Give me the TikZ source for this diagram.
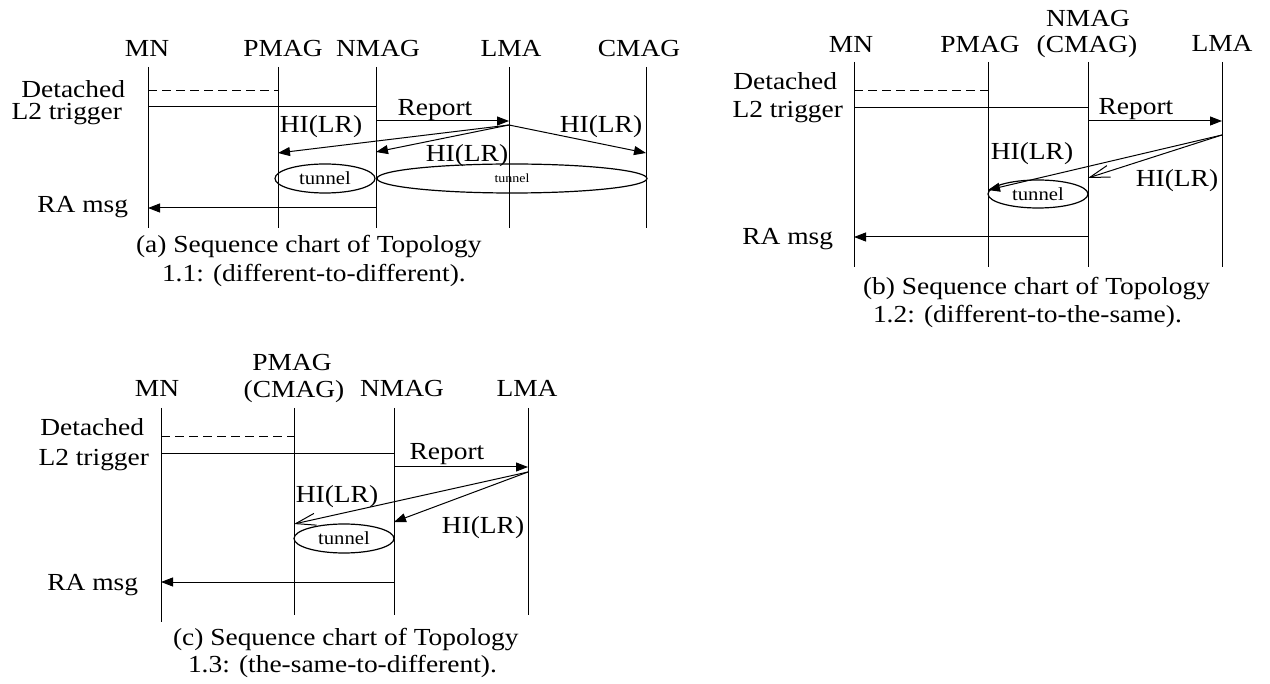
\documentclass[tikz,border=0pt]{standalone}
\usepackage{fontspec}
\setmainfont{Liberation Serif}[FakeStretch=1.12]
\usetikzlibrary{arrows.meta,shapes.geometric}

\newcommand\labfont{\fontsize{24.5}{29}\selectfont}
\newcommand\tunfont{\fontsize{18.5}{22}\selectfont}
\newcommand\tunsmallfont{\fontsize{12.5}{15}\selectfont}

\begin{document}
\begin{tikzpicture}[x=1pt,y=-1pt,
  life/.style={line width=1pt},
  msg/.style={line width=1pt,-{Triangle[length=12pt,width=9pt]}},
  omsg/.style={line width=1pt,-{Straight Barb[length=20pt,width=12pt]}},
  trig/.style={line width=1pt},
  dtrig/.style={line width=1pt,dash pattern=on 9pt off 5pt},
  lbl/.style={inner sep=0pt,outer sep=0pt,font=\labfont,anchor=base},
  lblr/.style={lbl,anchor=base east},
  lbll/.style={lbl,anchor=base west},
  tun/.style={draw,ellipse,line width=1.2pt,inner sep=0pt,outer sep=0pt,font=\tunfont},
]
\fill[white] (0,0) rectangle (1270,684);
\useasboundingbox (0,0) rectangle (1270,684);

%% ---------------- (a) Topology 1.1 ----------------
\foreach \n/\x in {MN/148,PMAG/278,NMAG/376,LMA/509,CMAG/646}{
  \coordinate (a\n-t) at (\x,67);
  \coordinate (a\n-b) at (\x,228);
  \draw[life] (a\n-t) -- (a\n-b);
}
\node[lbl] (aMN)   at (147,57) {MN};
\node[lbl] (aPMAG) at (283,57) {PMAG};
\node[lbl] (aNMAG) at (378,57) {NMAG};
\node[lbl] (aLMA)  at (511,57) {LMA};
\node[lbl] (aCMAG) at (639,57) {CMAG};

\node[lblr] (aDet) at (125,98)  {Detached};
\node[lblr] (aL2)  at (122,120) {L2 trigger};

\coordinate (a-d1) at (148,91);  \coordinate (a-d2) at (278,91);
\draw[dtrig] (a-d1) -- (a-d2);
\coordinate (a-t1) at (148,107); \coordinate (a-t2) at (376,107);
\draw[trig] (a-t1) -- (a-t2);

\coordinate (a-r1) at (376,121); \coordinate (a-r2) at (509,121);
\draw[msg] (a-r1) -- (a-r2);
\node[lbl] (aRep) at (435,116) {Report};

\coordinate (a-h0) at (509,125);
\coordinate (a-hp) at (278,153);
\coordinate (a-hn) at (376,152);
\coordinate (a-hc) at (646,153);
\draw[msg] (a-h0) -- (a-hp);
\draw[msg] (a-h0) -- (a-hn);
\draw[msg] (a-h0) -- (a-hc);
\node[lbl] (aHI1) at (321,133) {HI(LR)};
\node[lbl] (aHI2) at (601,133) {HI(LR)};
\node[lbl] (aHI3) at (467,162) {HI(LR)};

\node[tun,minimum width=100pt,minimum height=29pt] (aTun1) at (325,178.5) {tunnel};
\node[tun,minimum width=270pt,minimum height=29pt,font=\tunsmallfont] (aTun2) at (512,178.5) {tunnel};

\coordinate (a-m1) at (376,208); \coordinate (a-m2) at (148,208);
\draw[msg] (a-m1) -- (a-m2);
\node[lblr] (aRA) at (128,213) {RA msg};

\node[lbll] (aCap1) at (136,253) {(a) Sequence chart of Topology};
\node[lbll] (aCap2) at (162,282) {1.1: (different-to-different).};

%% ---------------- (b) Topology 1.2 ----------------
\foreach \n/\x in {MN/854,PMAG/988,NMAG/1088,LMA/1222}{
  \coordinate (b\n-t) at (\x,62);
  \coordinate (b\n-b) at (\x,267);
  \draw[life] (b\n-t) -- (b\n-b);
}
\node[lbl] (bMN)    at (851,53)  {MN};
\node[lbl] (bPMAG)  at (980,53)  {PMAG};
\node[lbl] (bNMAG)  at (1088,27) {NMAG};
\node[lbl] (bCMAG)  at (1087,53) {(CMAG)};
\node[lbl] (bLMA)   at (1222,52) {LMA};

\node[lblr] (bDet) at (837,90)  {Detached};
\node[lblr] (bL2)  at (843,118) {L2 trigger};

\coordinate (b-d1) at (854,91);  \coordinate (b-d2) at (988,91);
\draw[dtrig] (b-d1) -- (b-d2);
\coordinate (b-t1) at (854,108); \coordinate (b-t2) at (1088,108);
\draw[trig] (b-t1) -- (b-t2);

\coordinate (b-r1) at (1088,121); \coordinate (b-r2) at (1222,121);
\draw[msg] (b-r1) -- (b-r2);
\node[lbl] (bRep) at (1136,115) {Report};

\coordinate (b-h0) at (1222,135);
\coordinate (b-hp) at (988,190);
\coordinate (b-hn) at (1088,178);
\draw[msg] (b-h0) -- (b-hp);
\draw[omsg] (b-h0) -- (b-hn);
\node[lbl] (bHI1) at (1032,160) {HI(LR)};
\node[lbl] (bHI2) at (1177,187) {HI(LR)};

\node[tun,minimum width=100pt,minimum height=28pt] (bTun) at (1038,194) {tunnel};

\coordinate (b-m1) at (1088,237); \coordinate (b-m2) at (854,237);
\draw[msg] (b-m1) -- (b-m2);
\node[lblr] (bRA) at (833,245) {RA msg};

\node[lbll] (bCap1) at (863,295) {(b) Sequence chart of Topology};
\node[lbll] (bCap2) at (873,323) {1.2: (different-to-the-same).};

%% ---------------- (c) Topology 1.3 ----------------
\foreach \n/\x/\e in {MN/161/622,PMAG/294/615,NMAG/394/615,LMA/528/615}{
  \coordinate (c\n-t) at (\x,408);
  \coordinate (c\n-b) at (\x,\e);
  \draw[life] (c\n-t) -- (c\n-b);
}
\node[lbl] (cMN)    at (157,397) {MN};
\node[lbl] (cPMAG)  at (292,371) {PMAG};
\node[lbl] (cCMAG)  at (294,398) {(CMAG)};
\node[lbl] (cNMAG)  at (402,397) {NMAG};
\node[lbl] (cLMA)   at (527,397) {LMA};

\node[lblr] (cDet) at (144,436) {Detached};
\node[lblr] (cL2)  at (149,466) {L2 trigger};

\coordinate (c-d1) at (161,437); \coordinate (c-d2) at (294,437);
\draw[dtrig] (c-d1) -- (c-d2);
\coordinate (c-t1) at (161,454); \coordinate (c-t2) at (394,454);
\draw[trig] (c-t1) -- (c-t2);

\coordinate (c-r1) at (394,467); \coordinate (c-r2) at (528,467);
\draw[msg] (c-r1) -- (c-r2);
\node[lbl] (cRep) at (447,460) {Report};

\coordinate (c-h0) at (528,472);
\coordinate (c-hp) at (294,524);
\coordinate (c-hn) at (394,522);
\draw[omsg] (c-h0) -- (c-hp);
\draw[msg] (c-h0) -- (c-hn);
\node[lbl] (cHI1) at (337,503) {HI(LR)};
\node[lbl] (cHI2) at (483,533) {HI(LR)};

\node[tun,minimum width=100pt,minimum height=29pt] (cTun) at (344,538.5) {tunnel};

\coordinate (c-m1) at (394,582); \coordinate (c-m2) at (161,582);
\draw[msg] (c-m1) -- (c-m2);
\node[lblr] (cRA) at (138,590) {RA msg};

\node[lbll] (cCap1) at (173,645) {(c) Sequence chart of Topology};
\node[lbll] (cCap2) at (188,672) {1.3: (the-same-to-different).};
\end{tikzpicture}
\end{document}
